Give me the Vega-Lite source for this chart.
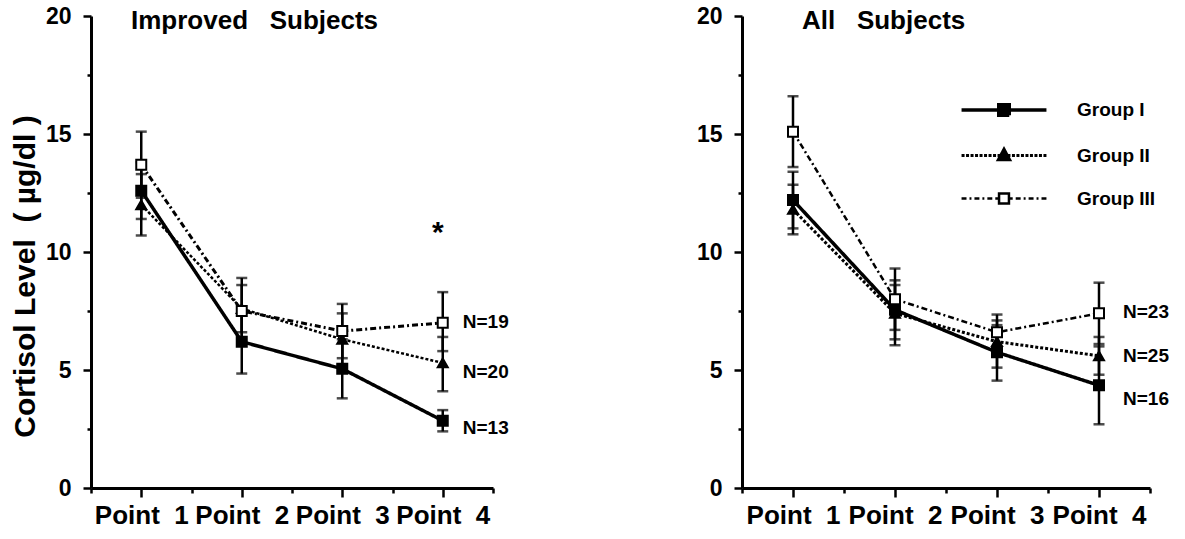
{
  "$schema": "https://vega.github.io/schema/vega-lite/v6.json",
  "background": "white",
  "padding": {"left": 10, "top": 5, "right": 0, "bottom": 0},
  "autosize": {"type": "pad"},
  "spacing": 187,
  "config": {
    "view": {"stroke": null},
    "font": "Liberation Sans",
    "axis": {
      "domainColor": "black", "domainWidth": 3, "tickColor": "black", "tickWidth": 2.5,
      "labelColor": "black", "labelFont": "Liberation Sans", "labelFontWeight": "bold",
      "titleColor": "black", "titleFont": "Liberation Sans", "titleFontWeight": "bold",
      "grid": false, "labelFlush": false, "labelOverlap": false
    },
    "title": {"font": "Liberation Sans", "fontWeight": "bold", "color": "black"}
  },
  "datasets": {
    "means": [
      {"panel": "Improved", "group": "Group I", "point": 1, "mean": 12.6, "lo": 11.4, "hi": 13.8},
      {"panel": "Improved", "group": "Group II", "point": 1, "mean": 12.0, "lo": 10.7, "hi": 13.3},
      {"panel": "Improved", "group": "Group III", "point": 1, "mean": 13.7, "lo": 12.3, "hi": 15.1},
      {"panel": "Improved", "group": "Group I", "point": 2, "mean": 6.2, "lo": 4.85, "hi": 7.55},
      {"panel": "Improved", "group": "Group II", "point": 2, "mean": 7.6, "lo": 6.6, "hi": 8.6},
      {"panel": "Improved", "group": "Group III", "point": 2, "mean": 7.5, "lo": 6.1, "hi": 8.9},
      {"panel": "Improved", "group": "Group I", "point": 3, "mean": 5.05, "lo": 3.8, "hi": 6.3},
      {"panel": "Improved", "group": "Group II", "point": 3, "mean": 6.3, "lo": 5.2, "hi": 7.4},
      {"panel": "Improved", "group": "Group III", "point": 3, "mean": 6.65, "lo": 5.5, "hi": 7.8},
      {"panel": "Improved", "group": "Group I", "point": 4, "mean": 2.85, "lo": 2.4, "hi": 3.3},
      {"panel": "Improved", "group": "Group II", "point": 4, "mean": 5.3, "lo": 4.1, "hi": 6.4},
      {"panel": "Improved", "group": "Group III", "point": 4, "mean": 7.0, "lo": 5.8, "hi": 8.3},
      {"panel": "All", "group": "Group I", "point": 1, "mean": 12.2, "lo": 11.0, "hi": 13.4},
      {"panel": "All", "group": "Group II", "point": 1, "mean": 11.8, "lo": 10.75, "hi": 12.85},
      {"panel": "All", "group": "Group III", "point": 1, "mean": 15.1, "lo": 13.6, "hi": 16.6},
      {"panel": "All", "group": "Group I", "point": 2, "mean": 7.55, "lo": 6.3, "hi": 8.8},
      {"panel": "All", "group": "Group II", "point": 2, "mean": 7.4, "lo": 6.05, "hi": 8.6},
      {"panel": "All", "group": "Group III", "point": 2, "mean": 8.0, "lo": 6.7, "hi": 9.3},
      {"panel": "All", "group": "Group I", "point": 3, "mean": 5.75, "lo": 4.55, "hi": 6.9},
      {"panel": "All", "group": "Group II", "point": 3, "mean": 6.2, "lo": 5.1, "hi": 7.1},
      {"panel": "All", "group": "Group III", "point": 3, "mean": 6.6, "lo": 5.85, "hi": 7.35},
      {"panel": "All", "group": "Group I", "point": 4, "mean": 4.35, "lo": 2.7, "hi": 6.0},
      {"panel": "All", "group": "Group II", "point": 4, "mean": 5.6, "lo": 4.8, "hi": 6.4},
      {"panel": "All", "group": "Group III", "point": 4, "mean": 7.4, "lo": 6.1, "hi": 8.7}
    ],
    "notes": [
      {"panel": "Improved", "point": 4, "value": 7.03, "text": "N=19"},
      {"panel": "Improved", "point": 4, "value": 4.9, "text": "N=20"},
      {"panel": "Improved", "point": 4, "value": 2.54, "text": "N=13"},
      {"panel": "All", "point": 4, "value": 7.45, "text": "N=23"},
      {"panel": "All", "point": 4, "value": 5.6, "text": "N=25"},
      {"panel": "All", "point": 4, "value": 3.77, "text": "N=16"}
    ],
    "stars": [
      {"panel": "Improved", "point": 3.95, "value": 11.0, "text": "*"}
    ]
  },
  "resolve": {"scale": {"x": "independent", "y": "independent", "shape": "independent", "fill": "independent", "strokeDash": "independent", "strokeWidth": "independent"}},
  "hconcat": [
    {
      "width": 402, "height": 472,
      "title": {"text": "Improved\u00a0\u00a0\u00a0Subjects", "anchor": "start", "frame": "group", "dx": 40, "dy": 37, "offset": -13, "baseline": "alphabetic", "fontSize": 26},
      "layer": [
        {
          "data": {"name": "means"},
          "transform": [{"filter": "datum.panel === 'Improved'"}],
          "layer": [
            {
              "mark": {"type": "line", "color": "black"},
              "encoding": {
                "x": {"field": "point", "type": "quantitative", "scale": {"domain": [0.5, 4.5], "nice": false, "zero": false},
                  "axis": {"title": null, "values": [0.5, 1, 1.5, 2, 2.5, 3, 3.5, 4, 4.5], "labelExpr": "datum.value % 1 === 0 ? 'Point\u00a0\u00a0' + datum.value : ''", "labelFontSize": 26, "labelPadding": 5, "tickSize": {"condition": {"test": "datum.value % 1 === 0", "value": 9}, "value": 5}}},
                "y": {"field": "mean", "type": "quantitative", "scale": {"domain": [0, 20], "nice": false},
                  "axis": {"title": "Cortisol Level\u00a0\u00a0(\u00a0µg/dl\u00a0)", "titleFontSize": 30, "titlePadding": 5, "titleY": 260, "values": [0, 2.5, 5, 7.5, 10, 12.5, 15, 17.5, 20], "labelExpr": "datum.value % 5 === 0 ? datum.label : ''", "labelFontSize": 23, "labelPadding": 12, "tickSize": {"condition": {"test": "datum.value % 5 === 0", "value": 8}, "value": 4}}},
                "detail": {"field": "group"},
                "strokeDash": {"condition": [{"test": "datum.group === 'Group II'", "value": [3, 2]}, {"test": "datum.group === 'Group III'", "value": [6, 3, 2, 3]}], "value": [1, 0]},
                "strokeWidth": {"condition": [{"test": "datum.group === 'Group II'", "value": 2.5}, {"test": "datum.group === 'Group III'", "value": 3}], "value": 3.5}
              }
            },
            {
              "mark": {"type": "rule", "color": "black", "strokeWidth": 2.5},
              "encoding": {
                "x": {"field": "point", "type": "quantitative"},
                "y": {"field": "lo", "type": "quantitative"},
                "y2": {"field": "hi"}
              }
            },
            {
              "mark": {"type": "tick", "orient": "horizontal", "color": "black", "size": 11, "thickness": 2.5},
              "encoding": {"x": {"field": "point", "type": "quantitative"}, "y": {"field": "lo", "type": "quantitative"}}
            },
            {
              "mark": {"type": "tick", "orient": "horizontal", "color": "black", "size": 11, "thickness": 2.5},
              "encoding": {"x": {"field": "point", "type": "quantitative"}, "y": {"field": "hi", "type": "quantitative"}}
            },
            {
              "mark": {"type": "point", "filled": true, "stroke": "black", "strokeWidth": 2, "size": 100, "opacity": 1},
              "encoding": {
                "x": {"field": "point", "type": "quantitative"},
                "y": {"field": "mean", "type": "quantitative"},
                "shape": {"condition": {"test": "datum.group === 'Group II'", "value": "triangle-up"}, "value": "square"},
                "fill": {"condition": {"test": "datum.group === 'Group III'", "value": "white"}, "value": "black"}
              }
            }
          ]
        },
        {
          "data": {"name": "notes"},
          "transform": [{"filter": "datum.panel === 'Improved'"}],
          "mark": {"type": "text", "align": "left", "baseline": "middle", "dx": 20, "fontSize": 19, "fontWeight": "bold", "color": "black"},
          "encoding": {
            "x": {"field": "point", "type": "quantitative"},
            "y": {"field": "value", "type": "quantitative"},
            "text": {"field": "text"}
          }
        },
        {
          "data": {"name": "stars"},
          "transform": [{"filter": "datum.panel === 'Improved'"}],
          "mark": {"type": "text", "align": "center", "baseline": "alphabetic", "dy": 14, "fontSize": 30, "fontWeight": "bold", "color": "black"},
          "encoding": {
            "x": {"field": "point", "type": "quantitative"},
            "y": {"field": "value", "type": "quantitative"},
            "text": {"field": "text"}
          }
        }
      ]
    },
    {
      "width": 408, "height": 472,
      "title": {"text": "All\u00a0\u00a0\u00a0Subjects", "anchor": "start", "frame": "group", "dx": 60, "dy": 37, "offset": -13, "baseline": "alphabetic", "fontSize": 26},
      "layer": [
        {
          "data": {"name": "means"},
          "transform": [{"filter": "datum.panel === 'All'"}],
          "layer": [
            {
              "mark": {"type": "line", "color": "black"},
              "encoding": {
                "x": {"field": "point", "type": "quantitative", "scale": {"domain": [0.5, 4.5], "nice": false, "zero": false},
                  "axis": {"title": null, "values": [0.5, 1, 1.5, 2, 2.5, 3, 3.5, 4, 4.5], "labelExpr": "datum.value % 1 === 0 ? 'Point\u00a0\u00a0' + datum.value : ''", "labelFontSize": 26, "labelPadding": 5, "tickSize": {"condition": {"test": "datum.value % 1 === 0", "value": 9}, "value": 5}}},
                "y": {"field": "mean", "type": "quantitative", "scale": {"domain": [0, 20], "nice": false},
                  "axis": {"title": null, "values": [0, 2.5, 5, 7.5, 10, 12.5, 15, 17.5, 20], "labelExpr": "datum.value % 5 === 0 ? datum.label : ''", "labelFontSize": 23, "labelPadding": 12, "tickSize": {"condition": {"test": "datum.value % 5 === 0", "value": 8}, "value": 4}}},
                "detail": {"field": "group"},
                "strokeDash": {"condition": [{"test": "datum.group === 'Group II'", "value": [3, 2]}, {"test": "datum.group === 'Group III'", "value": [6, 3, 2, 3]}], "value": [1, 0]},
                "strokeWidth": {"field": "group", "type": "nominal", "scale": {"domain": ["Group I", "Group II", "Group III"], "range": [3.5, 2.5, 3]},
                  "legend": {
                    "title": null, "orient": "none", "legendX": 219, "legendY": 77, "padding": 0,
                    "labelFont": "Liberation Sans", "labelFontWeight": "bold", "labelFontSize": 19, "labelColor": "black",
                    "symbolSize": 900, "symbolOffset": 26, "labelOffset": 56, "rowPadding": 16,
                    "symbolType": {"expr": "datum.value === 'Group I' ? 'M-2.83,0H2.83M-0.35,-0.35H0.35V0.35H-0.35Z' : datum.value === 'Group II' ? 'M-2.83,0H-2.63M-2.53,0H-2.33M-2.23,0H-2.03M-1.93,0H-1.73M-1.63,0H-1.43M-1.33,0H-1.13M-1.03,0H-0.83M-0.73,0H-0.53M-0.43,0H0.43M0.53,0H0.73M0.83,0H1.03M1.13,0H1.33M1.43,0H1.63M1.73,0H1.93M2.03,0H2.23M2.33,0H2.53M2.63,0H2.83M0,-0.42L0.38,0.28H-0.38Z' : 'M-2.83,0H-2.5M-2.3,0H-2.17M-1.97,0H-1.64M-1.44,0H-1.31M-1.11,0H-0.78M-0.58,0H-0.33M0.33,0H0.58M0.78,0H1.11M1.31,0H1.44M1.64,0H1.97M2.17,0H2.3M2.5,0H2.83M-0.33,-0.33H0.33V0.33H-0.33Z'"},
                    "symbolFillColor": {"expr": "datum.value === 'Group III' ? 'white' : 'black'"},
                    "symbolStrokeColor": "black",
                    "symbolDash": [1, 0],
                    "symbolOpacity": 1
                  }}
              }
            },
            {
              "mark": {"type": "rule", "color": "black", "strokeWidth": 2.5},
              "encoding": {
                "x": {"field": "point", "type": "quantitative"},
                "y": {"field": "lo", "type": "quantitative"},
                "y2": {"field": "hi"}
              }
            },
            {
              "mark": {"type": "tick", "orient": "horizontal", "color": "black", "size": 11, "thickness": 2.5},
              "encoding": {"x": {"field": "point", "type": "quantitative"}, "y": {"field": "lo", "type": "quantitative"}}
            },
            {
              "mark": {"type": "tick", "orient": "horizontal", "color": "black", "size": 11, "thickness": 2.5},
              "encoding": {"x": {"field": "point", "type": "quantitative"}, "y": {"field": "hi", "type": "quantitative"}}
            },
            {
              "mark": {"type": "point", "filled": true, "stroke": "black", "strokeWidth": 2, "size": 100, "opacity": 1},
              "encoding": {
                "x": {"field": "point", "type": "quantitative"},
                "y": {"field": "mean", "type": "quantitative"},
                "shape": {"condition": {"test": "datum.group === 'Group II'", "value": "triangle-up"}, "value": "square"},
                "fill": {"condition": {"test": "datum.group === 'Group III'", "value": "white"}, "value": "black"}
              }
            }
          ]
        },
        {
          "data": {"name": "notes"},
          "transform": [{"filter": "datum.panel === 'All'"}],
          "mark": {"type": "text", "align": "left", "baseline": "middle", "dx": 24, "fontSize": 19, "fontWeight": "bold", "color": "black"},
          "encoding": {
            "x": {"field": "point", "type": "quantitative"},
            "y": {"field": "value", "type": "quantitative"},
            "text": {"field": "text"}
          }
        }
      ]
    }
  ]
}
